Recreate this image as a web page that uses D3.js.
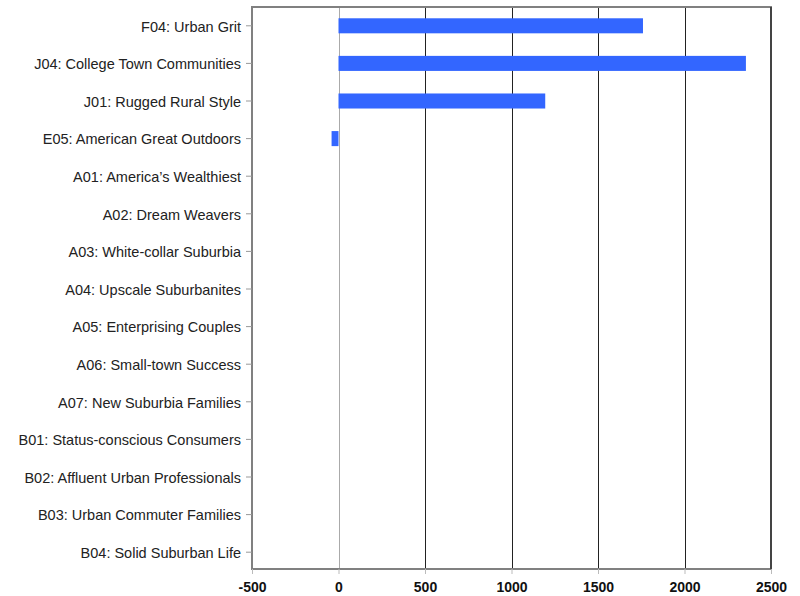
<!DOCTYPE html>
<html><head><meta charset="utf-8">
<script src="https://cdn.jsdelivr.net/npm/d3@7"></script>
<style>body{margin:0;background:#fff;}svg{display:block;}</style>
</head><body>
<svg id="chart" width="800" height="596"></svg>
<script>
const categories = [
  "F04: Urban Grit",
  "J04: College Town Communities",
  "J01: Rugged Rural Style",
  "E05: American Great Outdoors",
  "A01: America\u2019s Wealthiest",
  "A02: Dream Weavers",
  "A03: White-collar Suburbia",
  "A04: Upscale Suburbanites",
  "A05: Enterprising Couples",
  "A06: Small-town Success",
  "A07: New Suburbia Families",
  "B01: Status-conscious Consumers",
  "B02: Affluent Urban Professionals",
  "B03: Urban Commuter Families",
  "B04: Solid Suburban Life"
];
const values = [1760, 2355, 1195, -40, 0, 0, 0, 0, 0, 0, 0, 0, 0, 0, 0];
const xTicks = [-500, 0, 500, 1000, 1500, 2000, 2500];

(function(){
const svg = d3.select("#chart");
const mL = 252, mR = 771, mT = 7, mB = 569;

const x = d3.scaleLinear().domain([-500, 2500]).range([mL, mR]);
const y = d3.scaleBand().domain(categories).range([mT, mB + 2]).paddingInner(0.6).paddingOuter(0.3);

// gridlines
svg.append("g").selectAll("line").data(xTicks.filter(t => t > -500 && t < 2500)).join("line")
  .attr("x1", d => Math.round(x(d)) + 0.5).attr("x2", d => Math.round(x(d)) + 0.5)
  .attr("y1", mT).attr("y2", mB)
  .attr("stroke", d => d === 0 ? "#aaaaaa" : "#222")
  .attr("stroke-width", 1);

// bars
svg.append("g").selectAll("rect").data(values.map((v, i) => ({v, c: categories[i]})).filter(d => d.v !== 0)).join("rect")
  .attr("x", d => x(Math.min(0, d.v)))
  .attr("width", d => Math.abs(x(d.v) - x(0)))
  .attr("y", d => y(d.c))
  .attr("height", y.bandwidth())
  .attr("fill", "#3366ff");

// frame
svg.append("rect").attr("x", mL).attr("y", mT).attr("width", mR - mL).attr("height", mB - mT)
  .attr("fill", "none").attr("stroke", "#808080").attr("stroke-width", 2);
svg.append("line").attr("x1", mR).attr("x2", mR).attr("y1", mT).attr("y2", mB)
  .attr("stroke", "#444").attr("stroke-width", 2);

// y axis
const yAxis = d3.axisLeft(y).tickSize(6).tickPadding(5);
const gy = svg.append("g").attr("transform", `translate(${mL},0)`).call(yAxis);
gy.select(".domain").remove();
gy.selectAll(".tick line").attr("stroke", "#999");
gy.selectAll(".tick text").attr("font-family", "Liberation Sans, Arial, sans-serif")
  .attr("font-size", 14.5).attr("fill", "#222").attr("dy", "0.4em");

// x axis
const xAxis = d3.axisBottom(x).tickValues(xTicks).tickSize(5).tickPadding(8).tickFormat(d => String(d));
const gx = svg.append("g").attr("transform", `translate(0,${mB})`).call(xAxis);
gx.select(".domain").remove();
gx.selectAll(".tick line").attr("stroke", "#bbb");
gx.selectAll(".tick text").attr("font-family", "Liberation Sans, Arial, sans-serif")
  .attr("font-size", 14).attr("font-weight", "bold").attr("fill", "#111");
})();
</script>
</body></html>
